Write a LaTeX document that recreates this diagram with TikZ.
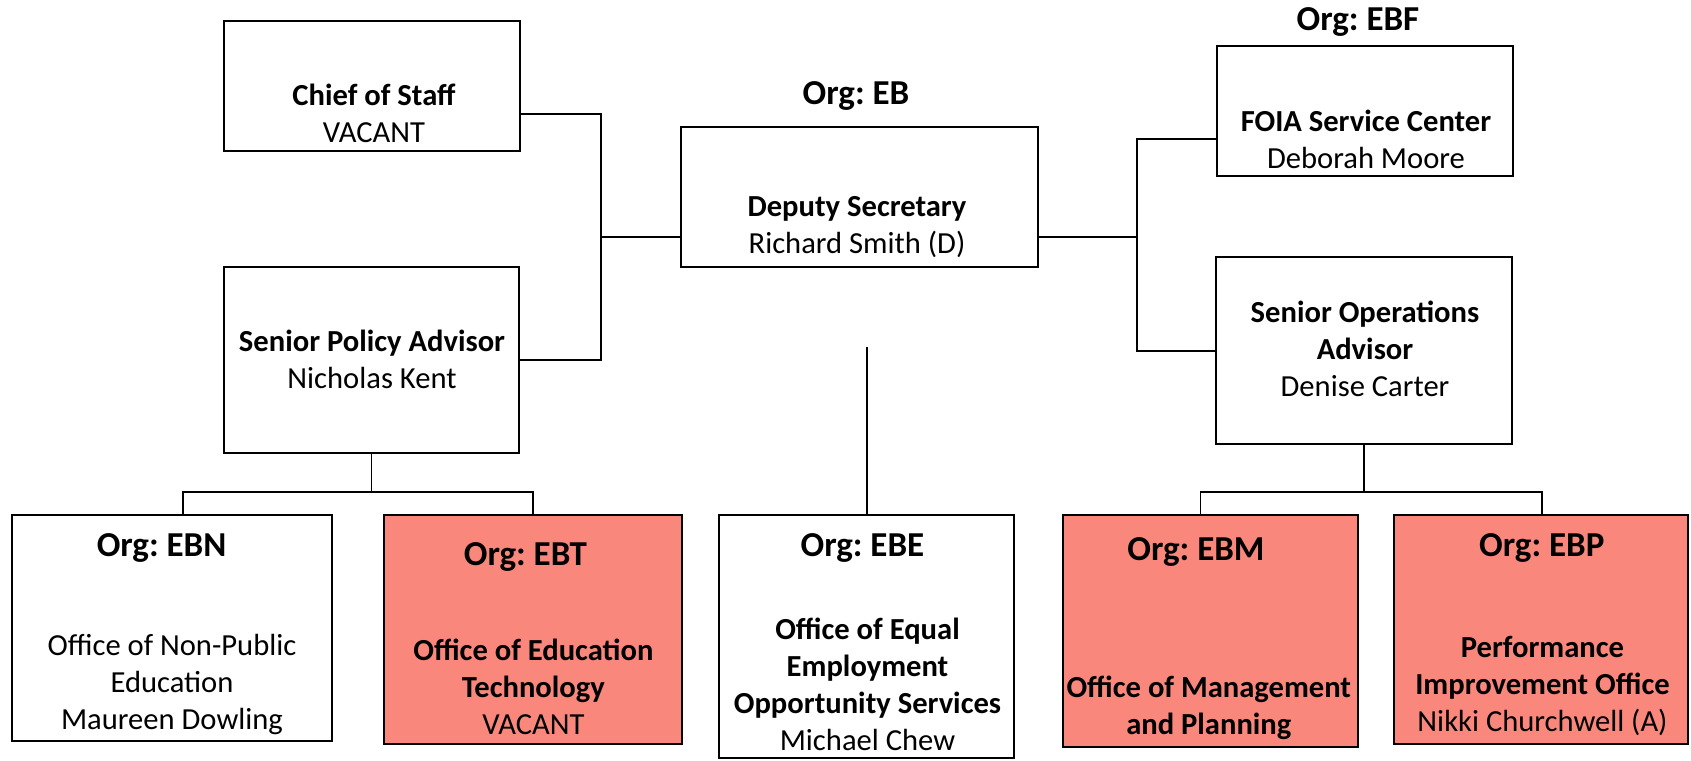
\documentclass[tikz,border=0pt]{standalone}
\usepackage{fontspec}
\setmainfont{Carlito}
\usepackage{tikz}
\definecolor{orgred}{HTML}{F9877C}
\frenchspacing

\begin{document}
\begin{tikzpicture}[x=0.5pt, y=-0.5pt,
	box/.style={draw, line width=0.8pt, inner sep=0pt},
	txt/.style={align=center, font=\fontsize{15.3pt}{18.5pt}\selectfont, inner sep=0pt},
	org/.style={font=\fontsize{17.5pt}{21pt}\selectfont\bfseries, inner sep=0pt},
	link/.style={line width=0.7pt}]
	\useasboundingbox (0,0) rectangle (1691,760);
	%Vertice
	\node [box, minimum width=178.5pt, minimum height=70pt] (dep) at (859.5,197) {};
	\node [org] (depo) at (856,96) {Org: EB};
	\node [txt] (dept) at (857,227) {\textbf{Deputy Secretary}\\Richard Smith (D)};
	%Staff a sinistra
	\node [box, minimum width=148pt, minimum height=65pt] (chief) at (372,86) {};
	\node [txt] (chieft) at (374,113) {\textbf{Chief of Staff}\\VACANT};
	\node [box, minimum width=147.5pt, minimum height=93pt] (pol) at (371.5,360) {};
	\node [txt] (polt) at (372,359) {\textbf{Senior Policy Advisor}\\Nicholas Kent};
	%Staff a destra
	\node [box, minimum width=148pt, minimum height=65pt] (foia) at (1365,111) {};
	\node [org] (foiao) at (1358,22) {Org: EBF};
	\node [txt] (foiat) at (1366,139) {\textbf{FOIA Service Center}\\Deborah Moore};
	\node [box, minimum width=148pt, minimum height=93.5pt] (ops) at (1364,350.5) {};
	\node [txt] (opst) at (1365,349) {\textbf{Senior Operations}\\\textbf{Advisor}\\Denise Carter};
	%Uffici
	\node [box, minimum width=160pt, minimum height=113pt] (ebn) at (172,628) {};
	\node [org] (ebno) at (161.6,548) {Org: EBN};
	\node [txt] (ebnt) at (172,684) {Office of Non-Public\\Education\\Maureen Dowling};
	\node [box, fill=orgred, minimum width=149pt, minimum height=114.5pt] (ebt) at (533,629.5) {};
	\node [org] (ebto) at (525.4,557) {Org: EBT};
	\node [txt] (ebtt) at (533.4,687) {\textbf{Office of Education}\\\textbf{Technology}\\VACANT};
	\node [box, minimum width=147.5pt, minimum height=121.5pt] (ebe) at (866.5,636.5) {};
	\node [org] (ebeo) at (862.4,548) {Org: EBE};
	\node [txt] (ebet) at (867.5,684) {\textbf{Office of Equal}\\\textbf{Employment}\\\textbf{Opportunity Services}\\Michael Chew};
	\node [box, fill=orgred, minimum width=147.5pt, minimum height=116pt] (ebm) at (1210.5,631) {};
	\node [org] (ebmo) at (1196,552) {Org: EBM};
	\node [txt] (ebmt) at (1208.8,708) {\textbf{Office of Management}\\\textbf{and Planning}};
	\node [box, fill=orgred, minimum width=147pt, minimum height=114.5pt] (ebp) at (1541,629.5) {};
	\node [org] (ebpo) at (1541.8,548) {Org: EBP};
	\node [txt] (ebpt) at (1542.5,686) {\textbf{Performance}\\\textbf{Improvement Office}\\Nikki Churchwell (A)};
	%Collegamenti a sinistra
	\coordinate (lt) at (601,114);
	\coordinate (lm) at (601,237);
	\coordinate (lb) at (601,360);
	\draw [link] (chief.east |- lt) -- (lt) -- (lb) -- (pol.east |- lb);
	\draw [link] (lm) -- (dep.west |- lm);
	%Collegamenti a destra
	\coordinate (rt) at (1137,139);
	\coordinate (rm) at (1137,237);
	\coordinate (rb) at (1137,351);
	\draw [link] (foia.west |- rt) -- (rt) -- (rb) -- (ops.west |- rb);
	\draw [link] (dep.east |- rm) -- (rm);
	%Linea centrale
	\coordinate (ds) at (867,347);
	\draw [link] (ds) -- (ds |- ebe.north);
	%Rami in basso
	\coordinate (pl) at (183,492);
	\coordinate (pr) at (533,492);
	\draw [link] (pol.south) -- (pol.south |- pl);
	\draw [link] (pl |- ebn.north) -- (pl) -- (pr) -- (pr |- ebt.north);
	\coordinate (ol) at (1200.5,492);
	\coordinate (or) at (1542,492);
	\draw [link] (ops.south) -- (ops.south |- ol);
	\draw [link] (ol |- ebm.north) -- (ol) -- (or) -- (or |- ebp.north);
\end{tikzpicture}
\end{document}
